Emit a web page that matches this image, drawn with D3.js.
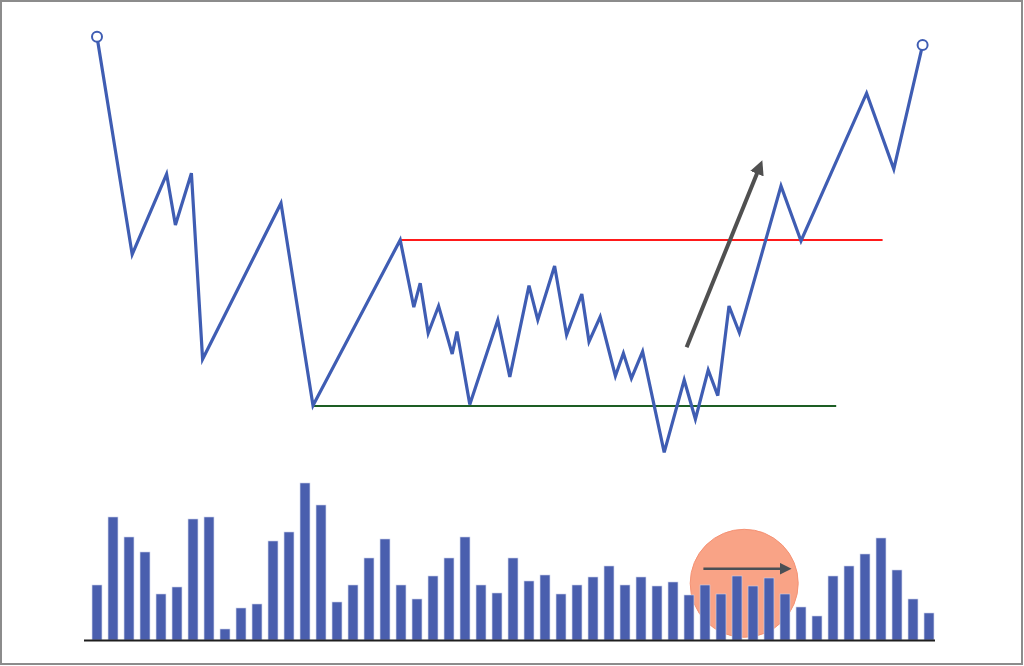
<!DOCTYPE html>
<html><head><meta charset="utf-8">
<script src="https://cdn.jsdelivr.net/npm/d3@7"></script>
<style>html,body{margin:0;padding:0;background:#fff;}svg{display:block;}</style>
</head><body>
<svg id="chart" width="1024" height="666"></svg>
<script>
// Price path: time positions (bar index units) and price levels
const priceT = [0, 2.2, 4.35, 4.9, 5.9, 6.6, 11.5, 13.5, 18.95, 19.8, 20.2, 20.7, 21.35, 22.2, 22.5, 23.3, 25.05, 25.8, 27.0, 27.55, 28.6, 29.35, 30.3, 30.75, 31.45, 32.4, 32.9, 33.4, 34.1, 35.45, 36.7, 37.4, 38.2, 38.8, 39.5, 40.15, 42.75, 44.0, 48.1, 49.8, 51.6];
const priceV = [105.8, 51.4, 71.5, 58.75, 71.7, 25.2, 64.2, 13.6, 55, 38.2, 44.2, 31.7, 38.5, 26.5, 32.1, 13.9, 35, 20.8, 43.6, 35, 48.5, 31.25, 41.5, 29.6, 35.8, 21, 26.7, 20.4, 27.1, 1.9, 20, 10.2, 22.5, 16.1, 38.5, 31.8, 68.5, 54.75, 91.7, 72.75, 103.75];
// Volume bars
const volume = [55, 123, 103, 88, 46, 53, 121, 123, 11, 32, 36, 99, 108, 157, 135, 38, 55, 82, 101, 55, 41, 64, 82, 103, 55, 47, 82, 59, 65, 46, 55, 63, 74, 55, 63, 54, 58, 45, 55, 46, 64, 54, 62, 46, 33, 24, 64, 74, 86, 102, 70, 41, 27];
// Levels: [startT, endT, price]
const resistance = [18.95, 49.1, 55];
const support = [13.5, 46.2, 13.5];
// Breakout arrow [t0, p0, t1, p1]
const breakoutArrow = [36.85, 28.2, 41.5, 74];
// Volume highlight: circle center [t, vol], arrow [t0, t1, vol]
const volCircle = [40.45, 56.7];
const volArrow = [37.9, 43.2, 71.3];

const svg = d3.select("#chart");
const x = d3.scaleLinear().domain([0, 52]).range([97, 929]);
const y = d3.scaleLinear().domain([0, 110]).range([460, 20]);
const yv = d3.scaleLinear().domain([0, 160]).range([640, 480]);

svg.append("rect").attr("x", 1).attr("y", 1).attr("width", 1021).attr("height", 663)
  .attr("fill", "#fff").attr("stroke", "#8c8c8c").attr("stroke-width", 2);

const defs = svg.append("defs");
defs.append("marker").attr("id", "ah1").attr("viewBox", "0 0 10 10").attr("refX", 2).attr("refY", 5)
  .attr("markerWidth", 3.6).attr("markerHeight", 3.6).attr("orient", "auto")
  .append("path").attr("d", "M0,0 L10,5 L0,10 Z").attr("fill", "#505050");
defs.append("marker").attr("id", "ah2").attr("viewBox", "0 0 10 10").attr("refX", 2).attr("refY", 5)
  .attr("markerWidth", 4.5).attr("markerHeight", 4.5).attr("orient", "auto")
  .append("path").attr("d", "M0,0 L10,5 L0,10 Z").attr("fill", "#4a4f55");

// Levels
svg.append("line").attr("x1", x(resistance[0])).attr("x2", x(resistance[1]))
  .attr("y1", y(resistance[2])).attr("y2", y(resistance[2]))
  .attr("stroke", "#ff1a1a").attr("stroke-width", 2.2);
svg.append("line").attr("x1", x(support[0])).attr("x2", x(support[1]))
  .attr("y1", y(support[2])).attr("y2", y(support[2]))
  .attr("stroke", "#1d5e24").attr("stroke-width", 2.2);

// Breakout arrow
svg.append("line").attr("x1", x(breakoutArrow[0])).attr("y1", y(breakoutArrow[1]))
  .attr("x2", x(breakoutArrow[2]) - 3).attr("y2", y(breakoutArrow[3]) + 7)
  .attr("stroke", "#505050").attr("stroke-width", 4).attr("marker-end", "url(#ah1)");

// Price line
const pts = priceT.map((t, i) => [t, priceV[i]]);
svg.append("path").datum(pts)
  .attr("d", d3.line().x(d => x(d[0])).y(d => y(d[1])))
  .attr("fill", "none").attr("stroke", "#3f5db3").attr("stroke-width", 3.2)
  .attr("stroke-linejoin", "miter");
[pts[0], pts[pts.length - 1]].forEach(p => {
  svg.append("circle").attr("cx", x(p[0])).attr("cy", y(p[1])).attr("r", 5)
    .attr("fill", "#fff").attr("stroke", "#3f5db3").attr("stroke-width", 2);
});

// Volume highlight circle
svg.append("circle").attr("cx", x(volCircle[0])).attr("cy", yv(volCircle[1])).attr("r", 54)
  .attr("fill", "#f9a386").attr("stroke", "#f59274").attr("stroke-width", 1);

// Volume bars
const bw = (x(1) - x(0)) * 0.62;
svg.append("g").selectAll("rect").data(volume).join("rect")
  .attr("x", (d, i) => x(i) - bw / 2).attr("width", bw)
  .attr("y", d => yv(d)).attr("height", d => yv(0) - yv(d))
  .attr("fill", "#4a5fae").attr("stroke", "#c9d0ea").attr("stroke-width", 0.6);

// Baseline
svg.append("line").attr("x1", 84).attr("x2", 935).attr("y1", yv(0) + 0.5).attr("y2", yv(0) + 0.5)
  .attr("stroke", "#1e1e1e").attr("stroke-width", 2.2);

// Volume arrow
svg.append("line").attr("x1", x(volArrow[0])).attr("x2", x(volArrow[1]) - 6)
  .attr("y1", yv(volArrow[2])).attr("y2", yv(volArrow[2]))
  .attr("stroke", "#4a4f55").attr("stroke-width", 2.6).attr("marker-end", "url(#ah2)");
</script>
</body></html>
